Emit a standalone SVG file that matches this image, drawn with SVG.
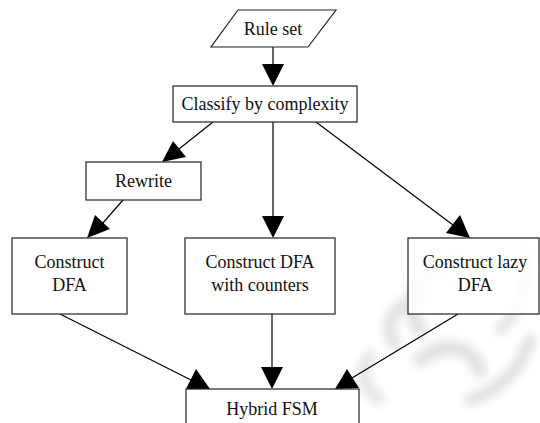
<svg xmlns="http://www.w3.org/2000/svg" width="540" height="423" viewBox="0 0 540 423">
<style>
.n{fill:#fff;stroke:#222;stroke-width:1.2}
.t{font-family:"Liberation Serif","Times New Roman",Times,serif;font-size:18px;fill:#111;text-anchor:middle}
.e{stroke:#000;stroke-width:1.2;fill:none}
.h{fill:#000}
.w{fill:none;stroke:#d8d8d8;stroke-linecap:round}
</style>
<defs><filter id="blur" x="-20%" y="-20%" width="140%" height="140%"><feGaussianBlur stdDeviation="5"/></filter></defs>
<rect width="540" height="423" fill="#fff"/>
<g id="watermark" filter="url(#blur)" opacity="0.8">
<path class="w" stroke-width="14" d="M420,330 C400,300 420,270 460,260"/>
<path class="w" stroke-width="12" d="M395,345 C380,320 400,300 420,300"/>
<path class="w" stroke-width="14" d="M420,360 C445,340 470,345 480,370"/>
<path class="w" stroke-width="10" d="M500,330 C520,310 530,280 525,250"/>
<path class="w" stroke-width="12" d="M470,400 C500,390 520,370 530,340"/>
<path class="w" stroke-width="10" d="M380,400 C360,385 360,370 370,355"/>
</g>
<g id="edges">
<line class="e" x1="273" y1="47" x2="273" y2="66"/>
<polygon class="h" points="273,86 262,64 284,64"/>
<line class="e" x1="213" y1="122" x2="179" y2="149"/>
<polygon class="h" points="162,162 173,141 186,157"/>
<line class="e" x1="273" y1="122" x2="273" y2="218"/>
<polygon class="h" points="273,238 262,216 284,216"/>
<line class="e" x1="316" y1="122" x2="453" y2="225"/>
<polygon class="h" points="470,238 446,233 460,215"/>
<line class="e" x1="123" y1="200" x2="102" y2="224"/>
<polygon class="h" points="87,238 95,215 110,229"/>
<line class="e" x1="60" y1="314" x2="191" y2="380"/>
<polygon class="h" points="210,389 186,389 196,369"/>
<line class="e" x1="272" y1="314" x2="272" y2="369"/>
<polygon class="h" points="272,389 261,367 283,367"/>
<line class="e" x1="458" y1="314" x2="352" y2="378"/>
<polygon class="h" points="335,389 347,369 359,388"/>
</g>
<g id="ruleset"><polygon class="n" points="238,10 336,10 308,47 211,47"/><text class="t" x="273" y="35">Rule set</text></g>
<g id="classify"><rect class="n" x="173" y="86" width="184" height="36"/><text class="t" x="265" y="110">Classify by complexity</text></g>
<g id="rewrite"><rect class="n" x="86" y="162" width="115" height="38"/><text class="t" x="143.5" y="187">Rewrite</text></g>
<g id="dfa"><rect class="n" x="12" y="238" width="115" height="76"/><text class="t" x="69.5" y="268">Construct</text><text class="t" x="69.5" y="291">DFA</text></g>
<g id="counters"><rect class="n" x="185" y="238" width="150" height="76"/><text class="t" x="260" y="268">Construct DFA</text><text class="t" x="260" y="291">with counters</text></g>
<g id="lazy"><rect class="n" x="408" y="238" width="131" height="76" fill-opacity="0.85"/><text class="t" x="475" y="268">Construct lazy</text><text class="t" x="475" y="291">DFA</text></g>
<g id="hybrid"><rect class="n" x="186" y="389" width="173" height="45" fill-opacity="0.85"/><text class="t" x="272" y="415">Hybrid FSM</text></g>
</svg>
